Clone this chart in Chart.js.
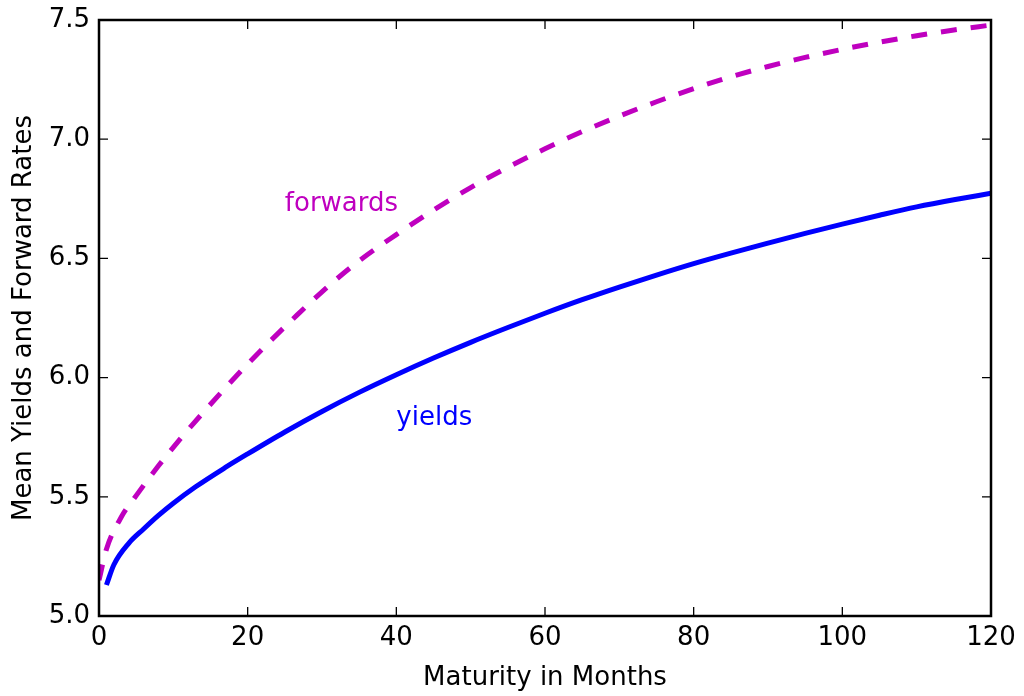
<!DOCTYPE html>
<html>
<head>
<meta charset="utf-8">
<script src="https://cdn.jsdelivr.net/npm/chart.js@4/dist/chart.umd.min.js"></script>
<style>
  body { margin: 0; background: #fff; }
  canvas { display: block; }
</style>
</head>
<body>
<canvas id="chart" width="1024" height="696"></canvas>
<script>
// values
const yieldMonths = [1, 2, 4, 6, 8, 10, 13, 17, 20, 25, 30, 35, 40, 45, 50, 55, 60, 65, 70, 75, 80, 85, 90, 95, 100, 105, 110, 115, 120];
const yieldValues = [5.13, 5.215, 5.305, 5.365, 5.422, 5.473, 5.542, 5.623, 5.68, 5.772, 5.858, 5.938, 6.012, 6.082, 6.148, 6.21, 6.27, 6.327, 6.38, 6.43, 6.478, 6.522, 6.564, 6.605, 6.644, 6.681, 6.716, 6.746, 6.773];

const forwardMonths = [0, 1, 3, 5, 8, 11, 14, 17, 20, 23, 26, 30, 35, 40, 45, 50, 55, 60, 65, 70, 75, 80, 85, 90, 95, 100, 105, 110, 115, 120];
const forwardValues = [5.15, 5.28, 5.415, 5.505, 5.63, 5.745, 5.853, 5.957, 6.057, 6.152, 6.243, 6.36, 6.49, 6.6, 6.703, 6.797, 6.882, 6.96, 7.032, 7.097, 7.157, 7.212, 7.262, 7.305, 7.343, 7.377, 7.407, 7.434, 7.458, 7.479];

const xTicks = [0, 20, 40, 60, 80, 100, 120];
const yTicks = [5.0, 5.5, 6.0, 6.5, 7.0, 7.5];

const labels = [
  { text: "forwards", x: 25, y: 6.7, color: "#bf00bf" },
  { text: "yields", x: 40, y: 5.8, color: "#0000ff" },
];

const FONT = "'DejaVu Sans', sans-serif";

const toPoints = (xs, ys) => xs.map((x, i) => ({ x: x, y: ys[i] }));

// matplotlib classic look: frame, ticks pointing inward on all sides, text labels
const framePlugin = {
  id: "frame",
  afterDatasetsDraw(chart) {
    const { ctx, chartArea: a, scales } = chart;
    const x = scales.x, y = scales.y;
    ctx.save();

    ctx.font = "26px " + FONT;
    ctx.textAlign = "left";
    ctx.textBaseline = "alphabetic";
    labels.forEach((l) => {
      ctx.fillStyle = l.color;
      ctx.fillText(l.text, x.getPixelForValue(l.x), y.getPixelForValue(l.y));
    });

    ctx.strokeStyle = "#000";
    ctx.lineWidth = 1.3;
    const len = 9;
    ctx.beginPath();
    xTicks.forEach((v) => {
      const px = x.getPixelForValue(v);
      ctx.moveTo(px, a.bottom);
      ctx.lineTo(px, a.bottom - len);
      ctx.moveTo(px, a.top);
      ctx.lineTo(px, a.top + len);
    });
    yTicks.forEach((v) => {
      const py = y.getPixelForValue(v);
      ctx.moveTo(a.left, py);
      ctx.lineTo(a.left + len, py);
      ctx.moveTo(a.right, py);
      ctx.lineTo(a.right - len, py);
    });
    ctx.stroke();

    ctx.lineWidth = 2.5;
    ctx.strokeRect(a.left, a.top, a.right - a.left, a.bottom - a.top);
    ctx.restore();
  },
};

new Chart(document.getElementById("chart"), {
  type: "line",
  data: {
    datasets: [
      {
        label: "forwards",
        data: toPoints(forwardMonths, forwardValues),
        borderColor: "#bf00bf",
        borderWidth: 5,
        borderDash: [16, 14],
        borderCapStyle: "butt",
        pointRadius: 0,
        cubicInterpolationMode: "monotone",
      },
      {
        label: "yields",
        data: toPoints(yieldMonths, yieldValues),
        borderColor: "#0000ff",
        borderWidth: 5,
        pointRadius: 0,
        cubicInterpolationMode: "monotone",
      },
    ],
  },
  options: {
    responsive: false,
    animation: false,
    devicePixelRatio: 1,
    layout: { padding: { top: 20, right: 33, left: 0, bottom: 0 } },
    plugins: { legend: { display: false }, tooltip: { enabled: false } },
    scales: {
      x: {
        type: "linear",
        min: 0,
        max: 120,
        grid: { display: false, drawTicks: false },
        border: { display: false },
        ticks: {
          stepSize: 20,
          maxRotation: 0,
          padding: 7,
          color: "#000",
          font: { family: FONT, size: 26 },
        },
        title: {
          display: true,
          text: "Maturity in Months",
          color: "#000",
          font: { family: FONT, size: 26 },
          padding: { top: 0, bottom: 2 },
        },
        afterFit(scale) {
          scale.height = 80;
          scale.paddingLeft = 0;
          scale.paddingRight = 0;
        },
      },
      y: {
        min: 5,
        max: 7.5,
        grid: { display: false, drawTicks: false },
        border: { display: false },
        ticks: {
          stepSize: 0.5,
          padding: 9,
          color: "#000",
          font: { family: FONT, size: 26 },
          callback: (v) => v.toFixed(1),
        },
        title: {
          display: true,
          text: "Mean Yields and Forward Rates",
          color: "#000",
          font: { family: FONT, size: 26 },
          padding: { top: 9, bottom: 0 },
        },
        afterFit(scale) {
          scale.width = 99;
          scale.paddingTop = 0;
          scale.paddingBottom = 0;
        },
      },
    },
  },
  plugins: [framePlugin],
});
</script>
</body>
</html>
